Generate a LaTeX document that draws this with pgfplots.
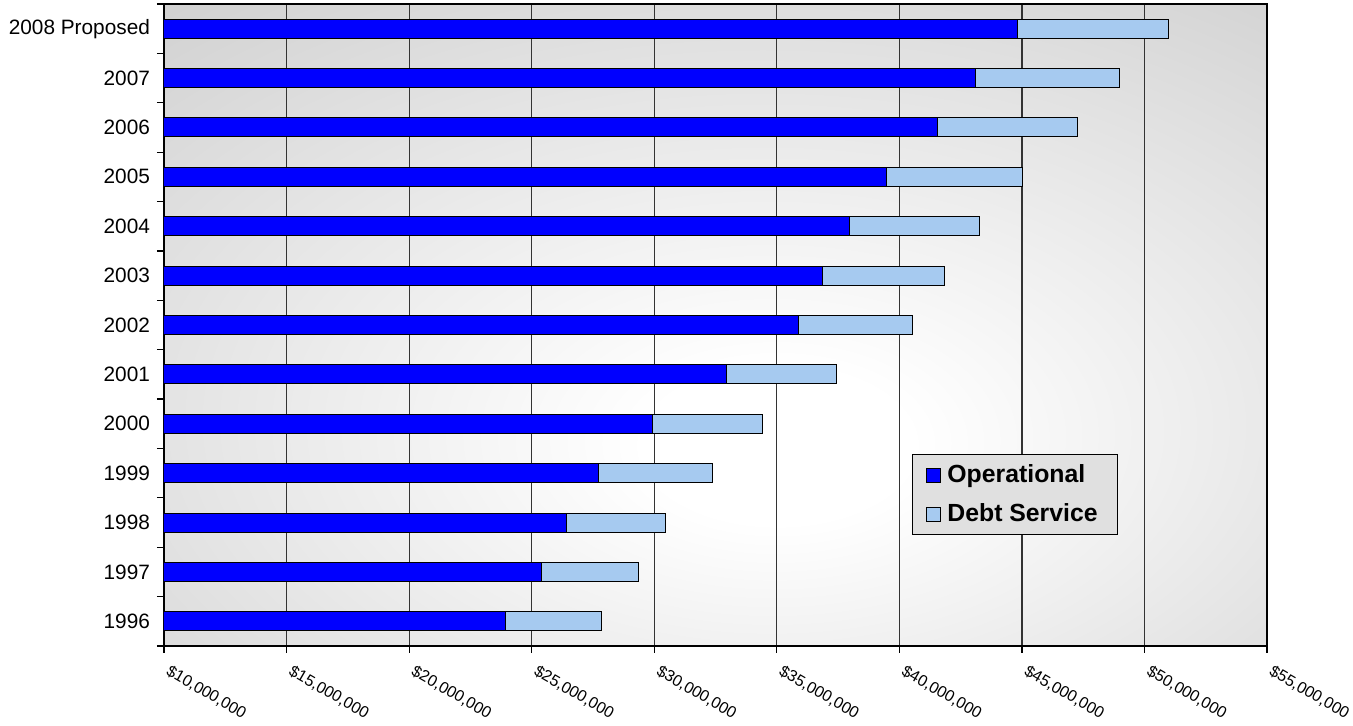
\documentclass[border=0pt]{standalone}
\usepackage{fontspec}
\setmainfont{Liberation Sans}
\usepackage{pgfplots}
\usepackage{pgfplotstable}
\pgfplotsset{compat=1.18}
\definecolor{opblue}{RGB}{0,0,255}
\definecolor{debtblue}{RGB}{166,202,240}
\definecolor{bggray}{RGB}{204,204,204}
\definecolor{legfill}{RGB}{224,224,224}
\pgfdeclareradialshading{bgshade}{\pgfpoint{3bp}{-10bp}}{color(0bp)=(white); color(6bp)=(white); color(45bp)=(bggray); color(100bp)=(bggray)}

\pgfplotstableread{
y op debt
0 23.95 3.88
1 25.42 3.92
2 26.44 4.04
3 27.71 4.65
4 29.91 4.49
5 32.93 4.49
6 35.87 4.65
7 36.85 5.01
8 37.95 5.30
9 39.46 5.55
10 41.54 5.71
11 43.09 5.91
12 44.80 6.20
}\datatable

\begin{document}
\begin{tikzpicture}
\begin{axis}[
  at={(0,0)}, anchor=south west,
  scale only axis, width=551.5pt, height=321pt,
  xbar stacked, bar width=9.5pt,
  xmin=10, xmax=55, ymin=-0.5, ymax=12.5,
  xtick={10,15,...,55},
  xticklabels={{\$10,000,000},{\$15,000,000},{\$20,000,000},{\$25,000,000},{\$30,000,000},{\$35,000,000},{\$40,000,000},{\$45,000,000},{\$50,000,000},{\$55,000,000}},
  xtick pos=bottom, ytick pos=left,
  xmajorgrids,
  major grid style={black!80, line width=0.6pt},
  ytick={-0.5,0.5,...,12.5},
  yticklabels={},
  extra y ticks={0,1,...,12},
  extra y tick labels={1996,1997,1998,1999,2000,2001,2002,2003,2004,2005,2006,2007,2008 Proposed},
  extra y tick style={major tick length=0pt},
  tick align=outside,
  major tick length=3.5pt,
  axis background/.style={shading=bgshade},
  axis line style={black, line width=0.8pt},
  tick style={black, line width=0.6pt},
  yticklabel style={font=\fontsize{10.4}{12}\selectfont, xshift=-3.5pt},
  xticklabel style={xshift=3.2pt, yshift=-4pt, rotate=-30, anchor=north west, font=\fontsize{8}{10}\selectfont, inner sep=1pt},
  legend cell align=left,
  legend image code/.code={\draw[#1, line width=0.5pt] (0pt,-3.5pt) rectangle (7pt,3.5pt);},
  legend style={at={(0.678,0.299)}, anchor=north west, fill=legfill, draw=black, line width=0.6pt,
    font=\bfseries\fontsize{12.4}{14}\selectfont, inner xsep=7pt, inner ysep=3pt, row sep=5pt,
    nodes={inner xsep=3pt}},
]
\addplot[fill=opblue, draw=black, line width=0.5pt] table[x=op, y=y]{\datatable};
\addplot[fill=debtblue, draw=black, line width=0.5pt] table[x=debt, y=y]{\datatable};
\legend{Operational, Debt Service}
\end{axis}
\pgfresetboundingbox
\path[use as bounding box] (-82pt,-40pt) rectangle (594.5pt,323pt);
\end{tikzpicture}
\end{document}
